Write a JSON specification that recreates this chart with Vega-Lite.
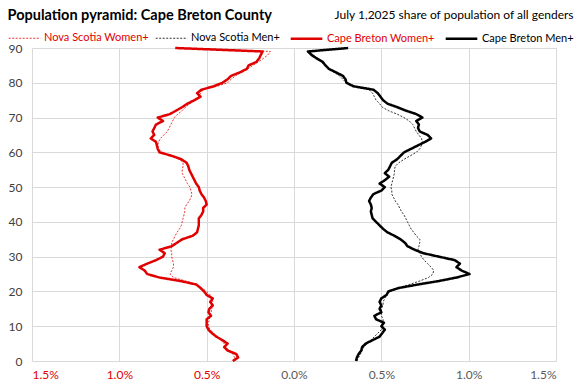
{
  "$schema": "https://vega.github.io/schema/vega-lite/v6.json",
  "width": 524,
  "height": 313,
  "autosize": {"type": "none"},
  "padding": {"left": 32, "top": 48, "right": 23, "bottom": 27},
  "background": "white",
  "config": {
    "view": {"stroke": null},
    "font": "Lato, sans-serif",
    "legend": {
      "orient": "none",
      "legendX": -24,
      "legendY": -27,
      "direction": "horizontal",
      "padding": 0,
      "symbolType": "stroke",
      "symbolSize": 1000,
      "labelFontSize": 11,
      "labelFont": "Lato, sans-serif",
      "labelOffset": 3,
      "columnPadding": 5,
      "title": null,
      "labelLimit": 0
    }
  },
  "data": {
    "values": [
      {"age":0,"Nova Scotia Women+":-0.35,"Nova Scotia Men+":0.36,"Cape Breton Women+":-0.35,"Cape Breton Men+":0.355},
      {"age":1,"Nova Scotia Women+":-0.34,"Nova Scotia Men+":0.37,"Cape Breton Women+":-0.32,"Cape Breton Men+":0.36},
      {"age":2,"Nova Scotia Women+":-0.35,"Nova Scotia Men+":0.38,"Cape Breton Women+":-0.33,"Cape Breton Men+":0.37},
      {"age":3,"Nova Scotia Women+":-0.37,"Nova Scotia Men+":0.39,"Cape Breton Women+":-0.38,"Cape Breton Men+":0.385},
      {"age":4,"Nova Scotia Women+":-0.39,"Nova Scotia Men+":0.40,"Cape Breton Women+":-0.40,"Cape Breton Men+":0.39},
      {"age":5,"Nova Scotia Women+":-0.40,"Nova Scotia Men+":0.42,"Cape Breton Women+":-0.38,"Cape Breton Men+":0.41},
      {"age":6,"Nova Scotia Women+":-0.42,"Nova Scotia Men+":0.44,"Cape Breton Women+":-0.41,"Cape Breton Men+":0.45},
      {"age":7,"Nova Scotia Women+":-0.44,"Nova Scotia Men+":0.46,"Cape Breton Women+":-0.445,"Cape Breton Men+":0.49},
      {"age":8,"Nova Scotia Women+":-0.46,"Nova Scotia Men+":0.48,"Cape Breton Women+":-0.47,"Cape Breton Men+":0.505},
      {"age":9,"Nova Scotia Women+":-0.48,"Nova Scotia Men+":0.50,"Cape Breton Women+":-0.49,"Cape Breton Men+":0.52},
      {"age":10,"Nova Scotia Women+":-0.49,"Nova Scotia Men+":0.51,"Cape Breton Women+":-0.50,"Cape Breton Men+":0.50},
      {"age":11,"Nova Scotia Women+":-0.49,"Nova Scotia Men+":0.51,"Cape Breton Women+":-0.50,"Cape Breton Men+":0.515},
      {"age":12,"Nova Scotia Women+":-0.485,"Nova Scotia Men+":0.51,"Cape Breton Women+":-0.50,"Cape Breton Men+":0.47},
      {"age":13,"Nova Scotia Women+":-0.48,"Nova Scotia Men+":0.50,"Cape Breton Women+":-0.475,"Cape Breton Men+":0.46},
      {"age":14,"Nova Scotia Women+":-0.475,"Nova Scotia Men+":0.50,"Cape Breton Women+":-0.49,"Cape Breton Men+":0.50},
      {"age":15,"Nova Scotia Women+":-0.47,"Nova Scotia Men+":0.50,"Cape Breton Women+":-0.485,"Cape Breton Men+":0.49},
      {"age":16,"Nova Scotia Women+":-0.47,"Nova Scotia Men+":0.51,"Cape Breton Women+":-0.465,"Cape Breton Men+":0.50},
      {"age":17,"Nova Scotia Women+":-0.465,"Nova Scotia Men+":0.51,"Cape Breton Women+":-0.48,"Cape Breton Men+":0.49},
      {"age":18,"Nova Scotia Women+":-0.47,"Nova Scotia Men+":0.52,"Cape Breton Women+":-0.465,"Cape Breton Men+":0.50},
      {"age":19,"Nova Scotia Women+":-0.48,"Nova Scotia Men+":0.53,"Cape Breton Women+":-0.50,"Cape Breton Men+":0.53},
      {"age":20,"Nova Scotia Women+":-0.50,"Nova Scotia Men+":0.55,"Cape Breton Women+":-0.515,"Cape Breton Men+":0.54},
      {"age":21,"Nova Scotia Women+":-0.53,"Nova Scotia Men+":0.60,"Cape Breton Women+":-0.535,"Cape Breton Men+":0.60},
      {"age":22,"Nova Scotia Women+":-0.56,"Nova Scotia Men+":0.66,"Cape Breton Women+":-0.56,"Cape Breton Men+":0.71},
      {"age":23,"Nova Scotia Women+":-0.62,"Nova Scotia Men+":0.72,"Cape Breton Women+":-0.65,"Cape Breton Men+":0.83},
      {"age":24,"Nova Scotia Women+":-0.69,"Nova Scotia Men+":0.77,"Cape Breton Women+":-0.77,"Cape Breton Men+":0.93},
      {"age":25,"Nova Scotia Women+":-0.71,"Nova Scotia Men+":0.795,"Cape Breton Women+":-0.84,"Cape Breton Men+":1.005},
      {"age":26,"Nova Scotia Women+":-0.70,"Nova Scotia Men+":0.80,"Cape Breton Women+":-0.855,"Cape Breton Men+":0.96},
      {"age":27,"Nova Scotia Women+":-0.69,"Nova Scotia Men+":0.785,"Cape Breton Women+":-0.885,"Cape Breton Men+":0.93},
      {"age":28,"Nova Scotia Women+":-0.69,"Nova Scotia Men+":0.765,"Cape Breton Women+":-0.84,"Cape Breton Men+":0.95},
      {"age":29,"Nova Scotia Women+":-0.695,"Nova Scotia Men+":0.745,"Cape Breton Women+":-0.79,"Cape Breton Men+":0.92},
      {"age":30,"Nova Scotia Women+":-0.70,"Nova Scotia Men+":0.73,"Cape Breton Women+":-0.75,"Cape Breton Men+":0.83},
      {"age":31,"Nova Scotia Women+":-0.70,"Nova Scotia Men+":0.72,"Cape Breton Women+":-0.74,"Cape Breton Men+":0.74},
      {"age":32,"Nova Scotia Women+":-0.705,"Nova Scotia Men+":0.71,"Cape Breton Women+":-0.77,"Cape Breton Men+":0.69},
      {"age":33,"Nova Scotia Women+":-0.70,"Nova Scotia Men+":0.715,"Cape Breton Women+":-0.70,"Cape Breton Men+":0.65},
      {"age":34,"Nova Scotia Women+":-0.70,"Nova Scotia Men+":0.72,"Cape Breton Women+":-0.67,"Cape Breton Men+":0.635},
      {"age":35,"Nova Scotia Women+":-0.69,"Nova Scotia Men+":0.72,"Cape Breton Women+":-0.64,"Cape Breton Men+":0.61},
      {"age":36,"Nova Scotia Women+":-0.68,"Nova Scotia Men+":0.70,"Cape Breton Women+":-0.58,"Cape Breton Men+":0.575},
      {"age":37,"Nova Scotia Women+":-0.67,"Nova Scotia Men+":0.685,"Cape Breton Women+":-0.555,"Cape Breton Men+":0.535},
      {"age":38,"Nova Scotia Women+":-0.655,"Nova Scotia Men+":0.67,"Cape Breton Women+":-0.55,"Cape Breton Men+":0.51},
      {"age":39,"Nova Scotia Women+":-0.645,"Nova Scotia Men+":0.66,"Cape Breton Women+":-0.545,"Cape Breton Men+":0.49},
      {"age":40,"Nova Scotia Women+":-0.64,"Nova Scotia Men+":0.65,"Cape Breton Women+":-0.545,"Cape Breton Men+":0.47},
      {"age":41,"Nova Scotia Women+":-0.635,"Nova Scotia Men+":0.64,"Cape Breton Women+":-0.545,"Cape Breton Men+":0.45},
      {"age":42,"Nova Scotia Women+":-0.63,"Nova Scotia Men+":0.63,"Cape Breton Women+":-0.53,"Cape Breton Men+":0.445},
      {"age":43,"Nova Scotia Women+":-0.625,"Nova Scotia Men+":0.615,"Cape Breton Women+":-0.52,"Cape Breton Men+":0.44},
      {"age":44,"Nova Scotia Women+":-0.625,"Nova Scotia Men+":0.605,"Cape Breton Women+":-0.52,"Cape Breton Men+":0.445},
      {"age":45,"Nova Scotia Women+":-0.615,"Nova Scotia Men+":0.595,"Cape Breton Women+":-0.50,"Cape Breton Men+":0.44},
      {"age":46,"Nova Scotia Women+":-0.60,"Nova Scotia Men+":0.58,"Cape Breton Women+":-0.505,"Cape Breton Men+":0.43},
      {"age":47,"Nova Scotia Women+":-0.59,"Nova Scotia Men+":0.57,"Cape Breton Women+":-0.515,"Cape Breton Men+":0.44},
      {"age":48,"Nova Scotia Women+":-0.585,"Nova Scotia Men+":0.56,"Cape Breton Women+":-0.53,"Cape Breton Men+":0.455},
      {"age":49,"Nova Scotia Women+":-0.59,"Nova Scotia Men+":0.56,"Cape Breton Women+":-0.54,"Cape Breton Men+":0.50},
      {"age":50,"Nova Scotia Women+":-0.595,"Nova Scotia Men+":0.555,"Cape Breton Women+":-0.545,"Cape Breton Men+":0.52},
      {"age":51,"Nova Scotia Women+":-0.61,"Nova Scotia Men+":0.56,"Cape Breton Women+":-0.56,"Cape Breton Men+":0.49},
      {"age":52,"Nova Scotia Women+":-0.62,"Nova Scotia Men+":0.565,"Cape Breton Women+":-0.57,"Cape Breton Men+":0.52},
      {"age":53,"Nova Scotia Women+":-0.63,"Nova Scotia Men+":0.57,"Cape Breton Women+":-0.58,"Cape Breton Men+":0.545},
      {"age":54,"Nova Scotia Women+":-0.64,"Nova Scotia Men+":0.575,"Cape Breton Women+":-0.59,"Cape Breton Men+":0.52},
      {"age":55,"Nova Scotia Women+":-0.64,"Nova Scotia Men+":0.575,"Cape Breton Women+":-0.60,"Cape Breton Men+":0.54},
      {"age":56,"Nova Scotia Women+":-0.635,"Nova Scotia Men+":0.58,"Cape Breton Women+":-0.605,"Cape Breton Men+":0.55},
      {"age":57,"Nova Scotia Women+":-0.635,"Nova Scotia Men+":0.60,"Cape Breton Women+":-0.615,"Cape Breton Men+":0.56},
      {"age":58,"Nova Scotia Women+":-0.655,"Nova Scotia Men+":0.63,"Cape Breton Women+":-0.645,"Cape Breton Men+":0.59},
      {"age":59,"Nova Scotia Women+":-0.70,"Nova Scotia Men+":0.665,"Cape Breton Women+":-0.70,"Cape Breton Men+":0.61},
      {"age":60,"Nova Scotia Women+":-0.755,"Nova Scotia Men+":0.70,"Cape Breton Women+":-0.77,"Cape Breton Men+":0.63},
      {"age":61,"Nova Scotia Women+":-0.775,"Nova Scotia Men+":0.72,"Cape Breton Women+":-0.78,"Cape Breton Men+":0.67},
      {"age":62,"Nova Scotia Women+":-0.78,"Nova Scotia Men+":0.73,"Cape Breton Women+":-0.785,"Cape Breton Men+":0.71},
      {"age":63,"Nova Scotia Women+":-0.775,"Nova Scotia Men+":0.735,"Cape Breton Women+":-0.79,"Cape Breton Men+":0.75},
      {"age":64,"Nova Scotia Women+":-0.765,"Nova Scotia Men+":0.73,"Cape Breton Women+":-0.82,"Cape Breton Men+":0.785},
      {"age":65,"Nova Scotia Women+":-0.745,"Nova Scotia Men+":0.715,"Cape Breton Women+":-0.80,"Cape Breton Men+":0.765},
      {"age":66,"Nova Scotia Women+":-0.725,"Nova Scotia Men+":0.70,"Cape Breton Women+":-0.81,"Cape Breton Men+":0.72},
      {"age":67,"Nova Scotia Women+":-0.715,"Nova Scotia Men+":0.69,"Cape Breton Women+":-0.80,"Cape Breton Men+":0.71},
      {"age":68,"Nova Scotia Women+":-0.705,"Nova Scotia Men+":0.68,"Cape Breton Women+":-0.79,"Cape Breton Men+":0.715},
      {"age":69,"Nova Scotia Women+":-0.695,"Nova Scotia Men+":0.66,"Cape Breton Women+":-0.75,"Cape Breton Men+":0.70},
      {"age":70,"Nova Scotia Women+":-0.685,"Nova Scotia Men+":0.63,"Cape Breton Women+":-0.78,"Cape Breton Men+":0.735},
      {"age":71,"Nova Scotia Women+":-0.665,"Nova Scotia Men+":0.59,"Cape Breton Women+":-0.71,"Cape Breton Men+":0.70},
      {"age":72,"Nova Scotia Women+":-0.64,"Nova Scotia Men+":0.54,"Cape Breton Women+":-0.675,"Cape Breton Men+":0.64},
      {"age":73,"Nova Scotia Women+":-0.62,"Nova Scotia Men+":0.505,"Cape Breton Women+":-0.64,"Cape Breton Men+":0.59},
      {"age":74,"Nova Scotia Women+":-0.595,"Nova Scotia Men+":0.49,"Cape Breton Women+":-0.61,"Cape Breton Men+":0.535},
      {"age":75,"Nova Scotia Women+":-0.57,"Nova Scotia Men+":0.47,"Cape Breton Women+":-0.57,"Cape Breton Men+":0.51},
      {"age":76,"Nova Scotia Women+":-0.545,"Nova Scotia Men+":0.46,"Cape Breton Women+":-0.535,"Cape Breton Men+":0.495},
      {"age":77,"Nova Scotia Women+":-0.535,"Nova Scotia Men+":0.45,"Cape Breton Women+":-0.555,"Cape Breton Men+":0.48},
      {"age":78,"Nova Scotia Women+":-0.52,"Nova Scotia Men+":0.43,"Cape Breton Women+":-0.53,"Cape Breton Men+":0.455},
      {"age":79,"Nova Scotia Women+":-0.44,"Nova Scotia Men+":0.35,"Cape Breton Women+":-0.46,"Cape Breton Men+":0.34},
      {"age":80,"Nova Scotia Women+":-0.38,"Nova Scotia Men+":0.30,"Cape Breton Women+":-0.41,"Cape Breton Men+":0.30},
      {"age":81,"Nova Scotia Women+":-0.36,"Nova Scotia Men+":0.28,"Cape Breton Women+":-0.38,"Cape Breton Men+":0.295},
      {"age":82,"Nova Scotia Women+":-0.335,"Nova Scotia Men+":0.26,"Cape Breton Women+":-0.36,"Cape Breton Men+":0.28},
      {"age":83,"Nova Scotia Women+":-0.30,"Nova Scotia Men+":0.23,"Cape Breton Women+":-0.31,"Cape Breton Men+":0.24},
      {"age":84,"Nova Scotia Women+":-0.265,"Nova Scotia Men+":0.20,"Cape Breton Women+":-0.27,"Cape Breton Men+":0.20},
      {"age":85,"Nova Scotia Women+":-0.235,"Nova Scotia Men+":0.175,"Cape Breton Women+":-0.26,"Cape Breton Men+":0.18},
      {"age":86,"Nova Scotia Women+":-0.205,"Nova Scotia Men+":0.155,"Cape Breton Women+":-0.215,"Cape Breton Men+":0.165},
      {"age":87,"Nova Scotia Women+":-0.175,"Nova Scotia Men+":0.135,"Cape Breton Women+":-0.20,"Cape Breton Men+":0.13},
      {"age":88,"Nova Scotia Women+":-0.15,"Nova Scotia Men+":0.11,"Cape Breton Women+":-0.19,"Cape Breton Men+":0.10},
      {"age":89,"Nova Scotia Women+":-0.135,"Nova Scotia Men+":0.09,"Cape Breton Women+":-0.18,"Cape Breton Men+":0.08},
      {"age":90,"Nova Scotia Women+":-0.66,"Nova Scotia Men+":0.30,"Cape Breton Women+":-0.68,"Cape Breton Men+":0.31}
    ]
  },
  "transform": [
    {"fold": ["Nova Scotia Women+", "Nova Scotia Men+", "Cape Breton Women+", "Cape Breton Men+"], "as": ["series", "share"]}
  ],
  "mark": {"type": "line", "strokeCap": "butt", "strokeJoin": "round"},
  "encoding": {
    "x": {
      "field": "share",
      "type": "quantitative",
      "scale": {"domain": [-1.5, 1.5], "nice": false},
      "axis": {
        "values": [-1.5, -1, -0.5, 0, 0.5, 1, 1.5],
        "labelExpr": "format(abs(datum.value), '.1f') + '%'",
        "grid": true,
        "gridColor": "#d9d9d9",
        "domain": false,
        "ticks": false,
        "labelPadding": 8,
        "labelFontSize": 12,
        "labelColor": {"condition": {"test": "datum.value < 0", "value": "#e00000"}, "value": "#595959"},
        "title": "July 1,2025 share of population of all genders",
        "titleX": 541,
        "titleY": -343,
        "titleAlign": "right",
        "titleAnchor": null,
        "titleBaseline": "alphabetic",
        "titleFontSize": 12,
        "titleFontWeight": "normal",
        "titleColor": "#000000"
      }
    },
    "y": {
      "field": "age",
      "type": "quantitative",
      "scale": {"domain": [0, 90], "nice": false},
      "axis": {
        "values": [0, 10, 20, 30, 40, 50, 60, 70, 80, 90],
        "grid": true,
        "gridColor": "#d9d9d9",
        "domain": false,
        "ticks": false,
        "labelPadding": 10,
        "labelFontSize": 12,
        "labelColor": "#404040",
        "title": "Population pyramid: Cape Breton County",
        "titleAngle": 0,
        "titleX": -25,
        "titleY": -29,
        "titleAlign": "left",
        "titleBaseline": "alphabetic",
        "titleFontSize": 14.5,
        "titleFontWeight": "bold",
        "titleColor": "#000000"
      }
    },
    "order": {"field": "age", "type": "quantitative"},
    "color": {
      "field": "series",
      "type": "nominal",
      "scale": {
        "domain": ["Nova Scotia Women+", "Nova Scotia Men+", "Cape Breton Women+", "Cape Breton Men+"],
        "range": ["#e00000", "#000000", "#e00000", "#000000"]
      },
      "legend": {
        "encode": {
          "labels": {"update": {"fill": {"signal": "test(/Women/, datum.label) ? '#e00000' : '#000000'"}}}
        }
      }
    },
    "strokeDash": {
      "field": "series",
      "type": "nominal",
      "scale": {
        "domain": ["Nova Scotia Women+", "Nova Scotia Men+", "Cape Breton Women+", "Cape Breton Men+"],
        "range": [[2, 1.5], [2, 1.5], [1, 0], [1, 0]]
      }
    },
    "strokeWidth": {
      "field": "series",
      "type": "ordinal",
      "scale": {
        "type": "ordinal",
        "domain": ["Nova Scotia Women+", "Nova Scotia Men+", "Cape Breton Women+", "Cape Breton Men+"],
        "range": [0.8, 0.8, 2.5, 2.5]
      }
    }
  }
}
